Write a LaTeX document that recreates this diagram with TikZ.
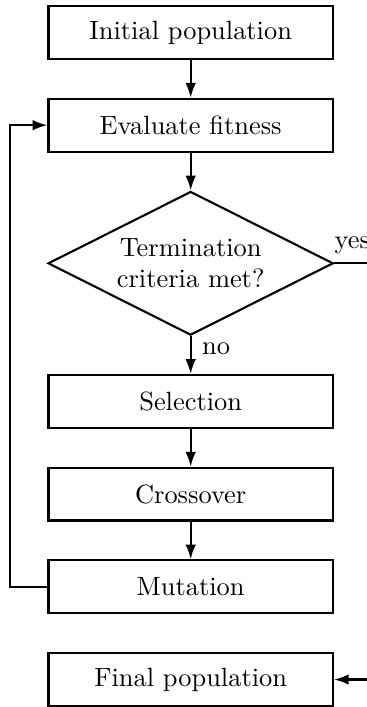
\documentclass[tikz,border=0pt]{standalone}
\usepackage{tikz}
\usetikzlibrary{shapes.geometric, arrows, arrows.meta, calc, positioning}
\tikzstyle{process} = [rectangle, thick, minimum width=107.7pt, minimum height=20pt, text centered, draw=black]
\tikzstyle{decision} = [diamond, thick, aspect=2, inner sep=0pt, minimum width=108pt, minimum height=54.4pt, align=center, draw=black]
\tikzstyle{arrow} = [thick,->,>={Latex[length=5.6pt,width=4pt]}]
\tikzstyle{line} = [thick]

\begin{document}
\begin{tikzpicture}[node distance = 14.3pt, auto]
	\node (init) [process] {Initial population};
	\node (eval) [process, below=of init] {Evaluate fitness};
	\node (term) [decision, below=of eval] {Termination\\criteria met?};
	\node (select) [process, below=of term] {Selection};
	\node (cross) [process, below=of select] {Crossover};
	\node (mutate) [process, below=of cross] {Mutation};
	\node (final) [process, below=of mutate] {Final population};
	\useasboundingbox ($(init.north)+(-72.2pt,1.9pt)$) rectangle ($(final.south)+(66.5pt,0.5pt)$);
	\coordinate (loop) at ($(mutate.west)+(-14pt,0)$);
	\coordinate (yesend) at ($(term.east)+(20pt,0)$);
	\coordinate (finalin) at ($(final.east)+(20pt,0)$);
	\draw [arrow] (init) -- (eval);
	\draw [arrow] (eval) -- (term);
	\draw [arrow] (term) -- node[anchor=north west, pos=0, xshift=0.6pt, yshift=1.2pt] {no} (select);
	\draw [arrow] (select) -- (cross);
	\draw [arrow] (cross) -- (mutate);
	\draw [arrow] (mutate.west) -- (loop) |- (eval.west);
	\draw [line] (term.east) -- node[anchor=south west, pos=0, xshift=-3.6pt] {yes} (yesend);
	\draw [arrow] (finalin) -- (final.east);
\end{tikzpicture}
\end{document}
